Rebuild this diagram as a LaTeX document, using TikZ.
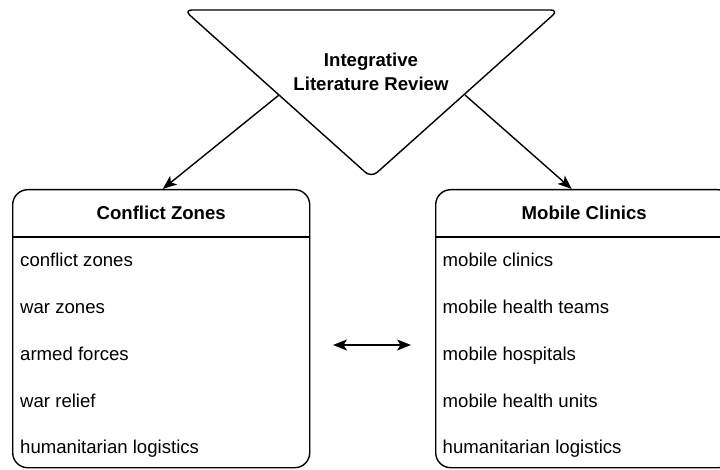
\documentclass[tikz,border=0pt]{standalone}
\usepackage{fontspec}
\setmainfont{Liberation Sans}
\usetikzlibrary{arrows.meta}
\tikzset{
  >={Stealth[length=14pt, width=11pt, inset=3.5pt]},
  box/.style={draw, line width=1.4pt, rounded corners=15pt,
    minimum width=297pt, minimum height=278pt, anchor=north west},
  head/.style={font=\bfseries\fontsize{18.6}{23.5}\selectfont},
  item/.style={anchor=base west, inner sep=0pt,
    font=\fontsize{18.6}{22}\selectfont},
  arr/.style={->, line width=1.4pt},
}
\begin{document}
\begin{tikzpicture}[x=1pt, y=-1pt]
\useasboundingbox (0,0) rectangle (720,470);

\draw[line width=1.4pt, rounded corners=8pt]
  (184,10) -- (558.6,10) -- (371.3,177.6) -- cycle;
\node[head, align=center] (review) at (371,72) {Integrative\\Literature Review};
\coordinate (review-l) at (279,95);
\coordinate (review-r) at (465,95);

\node[box] (zones) at (12,189) {};
\node[box] (clinics) at (435,189) {};

\draw[line width=1.4pt] ([yshift=-48pt]zones.north west)
  -- ([yshift=-48pt]zones.north east);
\draw[line width=1.4pt] ([yshift=-48pt]clinics.north west)
  -- ([yshift=-48pt]clinics.north east);

\node[head, anchor=base] (zones-title) at ([yshift=-31pt]zones.north)
  {Conflict Zones};
\node[head, anchor=base] (clinics-title) at ([yshift=-31pt]clinics.north)
  {Mobile Clinics};

\foreach \txt [count=\i] in {conflict zones, war zones, armed forces,
    war relief, humanitarian logistics}
  \node[item] (zones-\i) at ([xshift=8pt, yshift={-77.7-46.8*(\i-1)}]zones.north west)
    {\txt};
\foreach \txt [count=\i] in {mobile clinics, mobile health teams,
    mobile hospitals, mobile health units, humanitarian logistics}
  \node[item] (clinics-\i) at ([xshift=7.5pt, yshift={-77.7-46.8*(\i-1)}]clinics.north west)
    {\txt};

\draw[arr] (review-l) -- ([xshift=1.5pt]zones.north);
\draw[arr] (review-r) -- ([xshift=-12.5pt]clinics.north);

\coordinate (link-l) at (333,345);
\coordinate (link-r) at (411,345);
\draw[<->, line width=1.4pt] (link-l) -- (link-r);

\end{tikzpicture}
\end{document}
